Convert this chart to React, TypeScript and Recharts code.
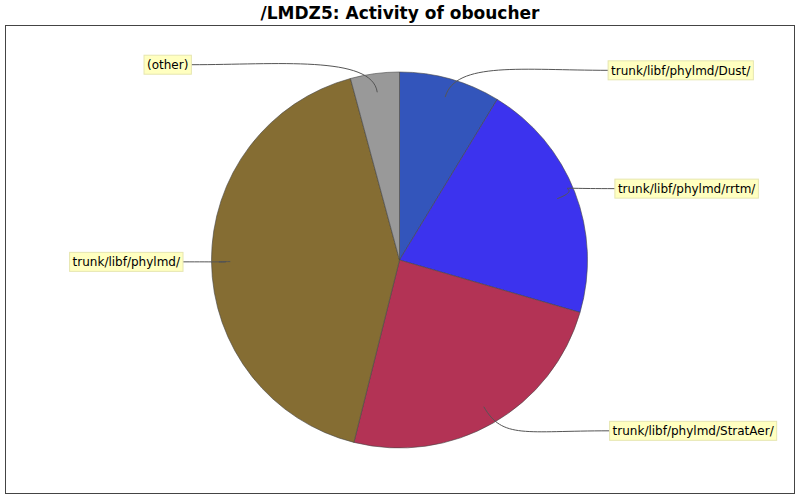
import { PieChart, Pie, Cell } from 'recharts'

const paths = [
  'trunk/libf/phylmd/Dust/',
  'trunk/libf/phylmd/rrtm/',
  'trunk/libf/phylmd/StratAer/',
  'trunk/libf/phylmd/',
  '(other)',
]
const shares = [8.7, 20.8, 24.4, 41.9, 4.2]
const colors = ['#3355BB', '#3C33EE', '#B33355', '#856D33', '#999999']

const data = paths.map((name, i) => ({ name, value: shares[i] }))

const RAD = Math.PI / 180
const FONT = '12px "DejaVu Sans"'

let ctx: CanvasRenderingContext2D | null = null
function textWidth(s: string) {
  if (!ctx) ctx = document.createElement('canvas').getContext('2d')
  if (!ctx) return s.length * 7
  ctx.font = FONT
  return ctx.measureText(s).width
}

function renderLabel(props: any) {
  const { cx, cy, midAngle, outerRadius, name } = props
  const cos = Math.cos(-midAngle * RAD)
  const sin = Math.sin(-midAngle * RAD)
  const right = cos >= 0
  // anchor inside the slice, elbow just outside
  const ax = cx + outerRadius * 0.9 * cos
  const ay = cy + outerRadius * 0.9 * sin
  const ex = cx + outerRadius * 1.1 * cos
  const ey = cy + outerRadius * 1.1 * sin
  const ty = cy + 197 * sin
  const off = 208 + 8.5 * cos * cos
  const tx = right ? cx + off : cx - off
  const w = textWidth(name) + 6
  const boxX = right ? tx : tx - w
  const c2x = right ? tx - 85 : tx + 85
  return (
    <g>
      <path
        d={`M${ax},${ay} C${ex},${ey} ${c2x},${ty} ${tx},${ty}`}
        fill="none"
        stroke="#555"
        strokeWidth={1}
      />
      <rect x={boxX} y={ty - 9.5} width={w} height={19} fill="#FFFFC0" stroke="#E6E6B0" />
      <text
        x={boxX + 3}
        y={ty + 4.5}
        fontFamily="DejaVu Sans"
        fontSize={12}
        fill="#000"
      >
        {name}
      </text>
    </g>
  )
}

export default function App() {
  return (
    <div style={{ position: 'fixed', left: 0, top: 0, width: 800, height: 500, background: '#fff' }}>
      <svg width={800} height={500} style={{ position: 'absolute', left: 0, top: 0 }}>
        <rect x={5.5} y={25.5} width={789} height={468} fill="#fff" stroke="#444" />
        <text
          x={400}
          y={19}
          textAnchor="middle"
          fontFamily="DejaVu Sans"
          fontWeight="bold"
          fontSize={17}
          fill="#000"
        >
          /LMDZ5: Activity of oboucher
        </text>
      </svg>
      <div style={{ position: 'absolute', left: 0, top: 0 }}>
        <PieChart width={800} height={500} margin={{ top: 0, right: 0, bottom: 0, left: 0 }}>
          <Pie
            data={data}
            dataKey="value"
            nameKey="name"
            cx={399.5}
            cy={260}
            outerRadius={188}
            startAngle={90}
            endAngle={-270}
            stroke="#444"
            strokeWidth={0.6}
            label={renderLabel}
            labelLine={false}
            isAnimationActive={false}
          >
            {data.map((d, i) => (
              <Cell key={d.name} fill={colors[i]} />
            ))}
          </Pie>
        </PieChart>
      </div>
    </div>
  )
}
